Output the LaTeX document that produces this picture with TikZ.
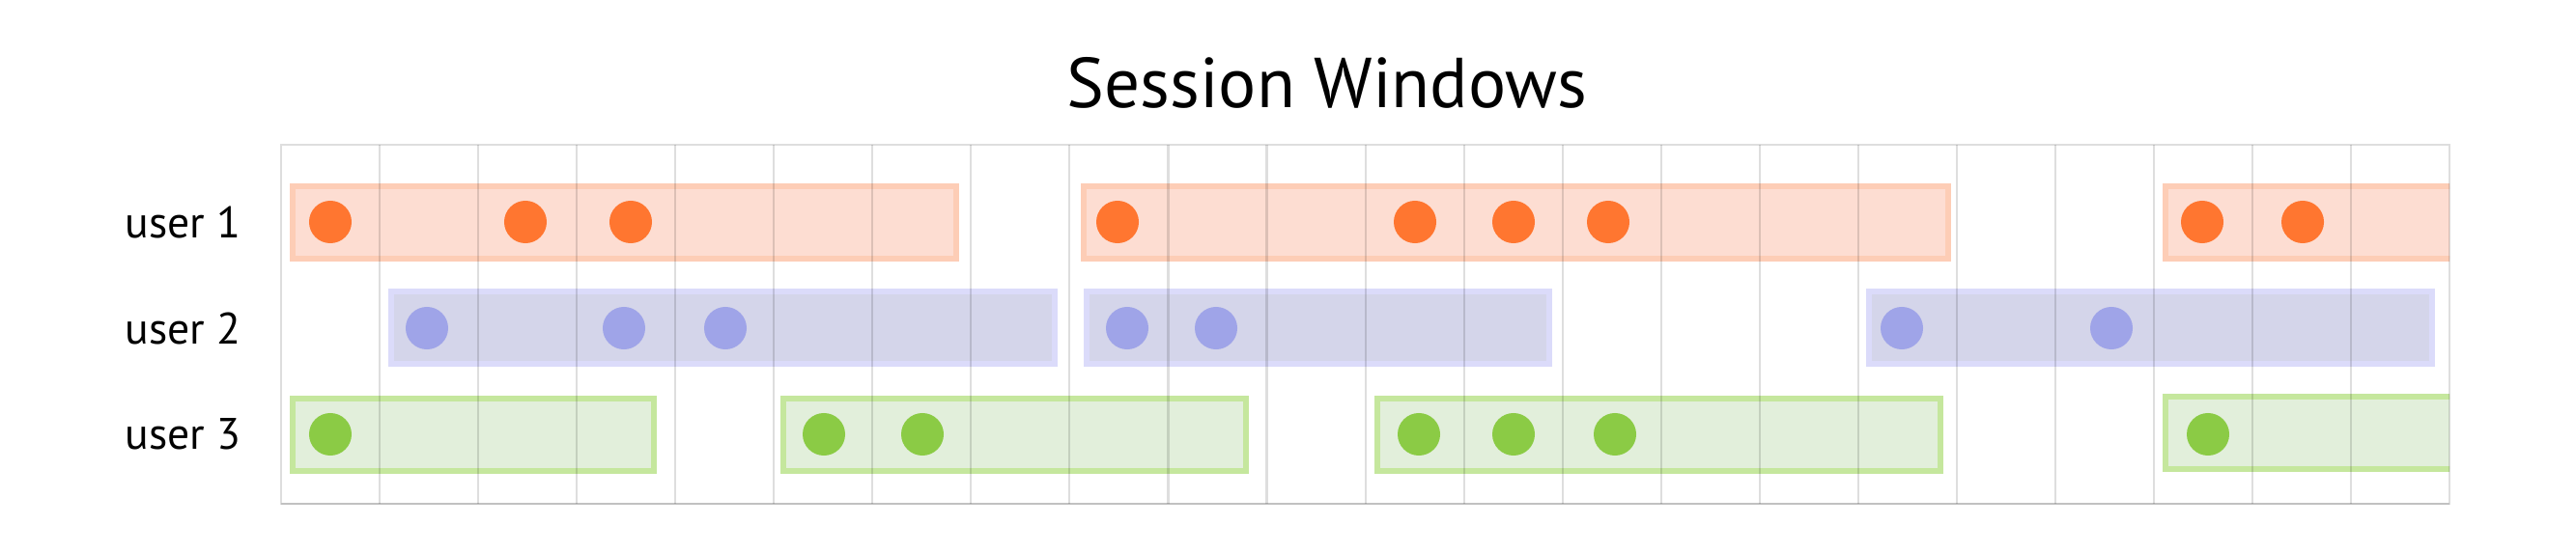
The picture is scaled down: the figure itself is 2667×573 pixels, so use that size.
\documentclass[tikz,border=0pt]{standalone}
\usepackage{fontspec}
\setmainfont{PT Sans}
\usetikzlibrary{positioning}
\definecolor{uonedot}{HTML}{FF7630}
\definecolor{uonefill}{HTML}{FDDDD2}
\definecolor{uoneline}{HTML}{FDCDB6}
\definecolor{utwodot}{HTML}{9FA4E8}
\definecolor{utwofill}{HTML}{D4D5EA}
\definecolor{utwoline}{HTML}{DBDBFA}
\definecolor{uthreedot}{HTML}{8BCB45}
\definecolor{uthreefill}{HTML}{E2EFDB}
\definecolor{uthreeline}{HTML}{C5E79D}

\begin{document}
\begin{tikzpicture}[x=0.01cm,y=-0.01cm]
      \tikzset{session/.style 2 args={fill=#1,draw=#2,line width=1.7pt},
          event/.style={fill=#1},
          gridline/.style={draw=black,opacity=0.13,line width=0.6pt},
          user label/.style={anchor=east,inner sep=0pt,font=\fontsize{13}{15}\selectfont}
      }
      \useasboundingbox (0,0) rectangle (2667,573);
      \node [font=\fontsize{20.8}{24}\selectfont,inner sep=0pt] (title) at (1374,86) {Session Windows};
      \node [user label] (user1) at (250,230) {user 1};
      \node [user label] (user2) at (250,340) {user 2};
      \node [user label] (user3) at (250,450) {user 3};
      % sessions
      \begin{scope}
        \clip (291,150) rectangle (2536,522);
        \draw [session={uonefill}{uoneline}] (303,193) rectangle (990,268);
        \draw [session={uonefill}{uoneline}] (1122,193) rectangle (2017,268);
        \draw [session={uonefill}{uoneline}] (2242,193) rectangle (2560,268);
        \draw [session={utwofill}{utwoline}] (405,302) rectangle (1092,377);
        \draw [session={utwofill}{utwoline}] (1125,302) rectangle (1604,377);
        \draw [session={utwofill}{utwoline}] (1935,302) rectangle (2518,377);
        \draw [session={uthreefill}{uthreeline}] (303,413) rectangle (677,488);
        \draw [session={uthreefill}{uthreeline}] (811,413) rectangle (1290,488);
        \draw [session={uthreefill}{uthreeline}] (1426,413) rectangle (2009,488);
        \draw [session={uthreefill}{uthreeline}] (2242,411) rectangle (2560,486);
      \end{scope}
      % events
      \foreach \x in {342,544,653,1157,1465,1567,1665,2280,2384}
        \fill [event=uonedot] (\x,230) circle (0.22cm);
      \foreach \x in {442,646,751,1167,1259,1969,2186}
        \fill [event=utwodot] (\x,340) circle (0.22cm);
      \foreach \x in {342,853,955,1469,1567,1672,2286}
        \fill [event=uthreedot] (\x,450) circle (0.22cm);
      % grid
      \foreach \i in {1,...,21}
        \draw [gridline] ({291+\i*102.05},150) -- ({291+\i*102.05},522);
      \draw [gridline] (291,150) rectangle (2536,522);
      \draw [gridline] (291,522) -- (2536,522);
    \end{tikzpicture}
\end{document}
